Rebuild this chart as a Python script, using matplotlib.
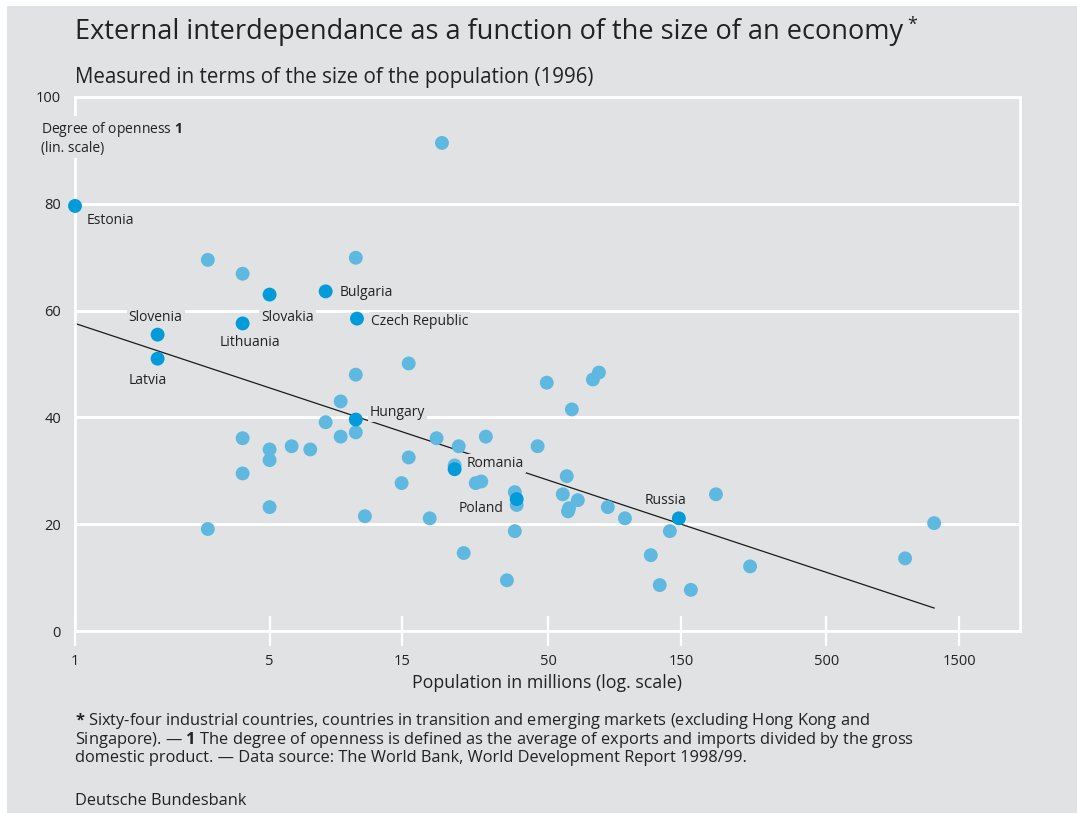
import numpy as np
import matplotlib.pyplot as plt
from matplotlib.patches import Rectangle
from matplotlib.ticker import FixedLocator, FixedFormatter, NullLocator

plt.rcParams['font.family'] = ['Open Sans', 'DejaVu Sans']
plt.rcParams['mathtext.fontset'] = 'custom'
plt.rcParams['mathtext.rm'] = 'Open Sans'
plt.rcParams['mathtext.bf'] = 'Open Sans:bold'

BG = '#e1e2e4'
LIGHT = '#5fb8df'
DARK = '#009bd8'
TXT = '#222222'

# other countries (population in millions, degree of openness in %)
other_pop = [20.8, 3.0, 4.0, 10.2, 10.2, 15.8, 49.5, 72.5, 76.2, 60.9,
             9.0, 7.95, 9.0, 10.2, 4.0, 5.0, 6.0, 7.0, 5.0, 4.0,
             15.8, 19.9, 23.9, 29.9, 45.9, 23.1, 27.5, 28.8, 14.9, 38.0,
             38.6, 58.4, 56.5, 64.0, 59.5, 59.0, 82.0, 94.5, 200.6, 5.0,
             3.0, 11.0, 18.8, 38.0, 24.9, 35.6, 137.0, 117.0, 126.0, 163.0,
             266.0, 959.0, 1219.0]
other_open = [91.4, 69.5, 66.9, 69.9, 48.0, 50.1, 46.5, 47.1, 48.4, 41.5,
              43.0, 39.1, 36.4, 37.2, 36.1, 34.0, 34.6, 34.0, 32.0, 29.5,
              32.5, 36.1, 34.6, 36.4, 34.6, 31.0, 27.7, 28.0, 27.7, 26.0,
              23.6, 29.0, 25.6, 24.5, 23.0, 22.4, 23.2, 21.1, 25.6, 23.2,
              19.1, 21.5, 21.1, 18.7, 14.6, 9.5, 18.7, 14.2, 8.6, 7.7,
              12.1, 13.6, 20.2]

# transition countries that are named
names = ['Estonia', 'Slovenia', 'Latvia', 'Lithuania', 'Slovakia', 'Bulgaria',
         'Czech Republic', 'Hungary', 'Romania', 'Poland', 'Russia']
named_pop = [1.0, 1.98, 1.98, 4.0, 5.0, 7.95, 10.3, 10.2, 23.1, 38.6, 147.6]
named_open = [79.6, 55.5, 51.0, 57.6, 63.0, 63.6, 58.5, 39.6, 30.3, 24.7, 21.1]
# label offsets in pixels and alignment
lab_off = [(12, -15), (-2, 17), (-10, -22), (7, -19), (18, -23), (14, -1),
           (14, -3), (14, 7), (12, 6), (-13, -9), (-13, 18)]
lab_ha = ['left', 'center', 'center', 'center', 'center', 'left',
          'left', 'left', 'left', 'right', 'center']

# regression line end points
trend_pop = [1.0, 1219.0]
trend_open = [57.6, 4.3]

xticks = [1, 5, 15, 50, 150, 500, 1500]
yticks = [0, 20, 40, 60, 80, 100]

foot_lines = [
    '$\\mathbf{*}$ Sixty-four industrial countries, countries in transition and emerging markets (excluding Hong Kong and',
    'Singapore). \u2014 $\\mathbf{1}$ The degree of openness is defined as the average of exports and imports divided by the gross',
    'domestic product. \u2014 Data source: The World Bank, World Development Report 1998/99.',
]

W, H = 1077, 813
fig = plt.figure(figsize=(W / 100, H / 100), dpi=100, facecolor='white')
fig.patches.append(Rectangle((7 / W, 0), 1, 1 - 6 / H, transform=fig.transFigure,
                             facecolor=BG, edgecolor='none', zorder=-10))

def fx(px):
    return px / W

def fy(py):
    return 1 - py / H

ax = fig.add_axes([fx(75), fy(631), fx(1020) - fx(75), fy(97) - fy(631)])
ax.set_facecolor(BG)
ax.set_xscale('log')
ax.set_xlim(1, 2480)
ax.set_ylim(0, 100)

for s in ax.spines.values():
    s.set_color('white')
    s.set_linewidth(2)
ax.set_axisbelow(True)
ax.yaxis.grid(True, color='white', linewidth=2.2)

ax.xaxis.set_major_locator(FixedLocator(xticks))
ax.xaxis.set_major_formatter(FixedFormatter([str(t) for t in xticks]))
ax.xaxis.set_minor_locator(NullLocator())
ax.tick_params(axis='x', direction='inout', length=21, width=1.6, color='white',
               labelsize=10.5, labelcolor=TXT, pad=6)
ax.set_yticks(yticks)
ax.tick_params(axis='y', length=0, labelsize=10.5, labelcolor=TXT, pad=10)

ax.plot(trend_pop, trend_open, color='#1a1a1a', linewidth=0.9, zorder=2)

ax.scatter(other_pop, other_open, s=100, color=LIGHT, edgecolors='none',
           zorder=4, clip_on=False)
ax.scatter(named_pop, named_open, s=100, color=DARK, edgecolors='none',
           zorder=5, clip_on=False)

for n, xp, yp, off, ha in zip(names, named_pop, named_open, lab_off, lab_ha):
    ax.annotate(n, xy=(xp, yp), xytext=(off[0] * 0.72, off[1] * 0.72),
                textcoords='offset points', ha=ha, va='center', fontsize=10,
                color=TXT, zorder=3,
                bbox=dict(facecolor=BG, edgecolor='none', pad=1.5))

ax.set_xlabel('Population in millions (log. scale)', fontsize=12.8, color=TXT,
              labelpad=4)

t = fig.text(fx(75), fy(32), 'External interdependance as a function of the size of an economy',
             fontsize=19.5, color=TXT, va='center', ha='left')
ax.annotate('*', xy=(1, 0.75), xycoords=t, xytext=(3, 0), textcoords='offset points',
            fontsize=13, color=TXT, va='center', ha='left')
fig.text(fx(75), fy(77), 'Measured in terms of the size of the population (1996)',
         fontsize=14.8, color=TXT, va='center', ha='left')
fig.text(fx(41), fy(138), 'Degree of openness $\\mathbf{1}$\n(lin. scale)',
         fontsize=10, color=TXT, va='center', ha='left', linespacing=1.1,
         bbox=dict(facecolor=BG, edgecolor='none', pad=2))

for i, line in enumerate(foot_lines):
    fig.text(fx(75), fy(721 + 18.5 * i), line, fontsize=11.8, color=TXT,
             va='center', ha='left')
fig.text(fx(75), fy(801), 'Deutsche Bundesbank', fontsize=11.8, color=TXT,
         va='center', ha='left')

fig.savefig('out.png', dpi=100, facecolor=fig.get_facecolor())
